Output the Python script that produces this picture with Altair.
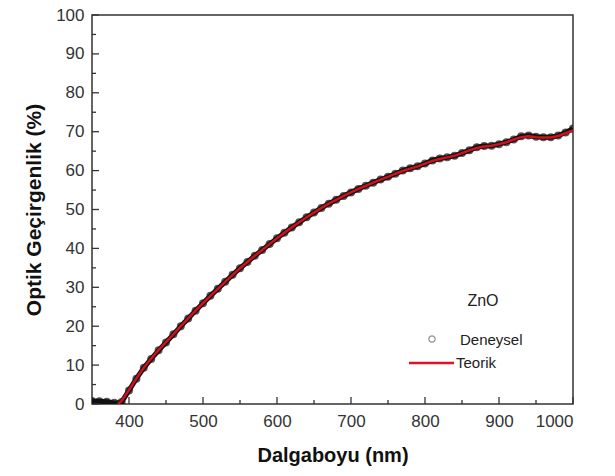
import altair as alt
import pandas as pd

# Wavelength (nm) and transmittance (%)
wl_exp = [350, 360, 370, 380, 385, 390, 400, 410, 420, 430, 440, 450, 460, 470, 480, 490,
          500, 510, 520, 530, 540, 550, 560, 570, 580, 590, 600, 610, 620, 630, 640, 650,
          660, 670, 680, 690, 700, 710, 720, 730, 740, 750, 760, 770, 780, 790, 800, 810,
          820, 830, 840, 850, 860, 870, 880, 890, 900, 910, 920, 930, 940, 950, 960, 970,
          980, 990, 1000]
t_exp = [0.8, 0.7, 0.6, 0.3, 0.0, 0.5, 3.5, 6.5, 9.3, 11.6, 13.8, 15.8, 17.9, 20.0, 22.0, 24.0,
         25.9, 27.8, 29.6, 31.4, 33.2, 34.9, 36.5, 38.1, 39.6, 41.1, 42.6, 44.0, 45.4, 46.7, 48.0, 49.2,
         50.4, 51.5, 52.5, 53.5, 54.4, 55.3, 56.1, 56.9, 57.7, 58.4, 59.2, 60.0, 60.6, 61.1, 61.8, 62.6,
         63.1, 63.4, 63.8, 64.5, 65.2, 66.0, 66.3, 66.4, 66.8, 67.3, 68.0, 68.8, 69.0, 68.7, 68.6, 68.6,
         69.0, 69.8, 70.8]

wl_th = [385, 390, 400, 410, 420, 430, 440, 450, 460, 470, 480, 490, 500, 510, 520, 530, 540,
         550, 560, 570, 580, 590, 600, 610, 620, 630, 640, 650, 660, 670, 680, 690, 700, 710,
         720, 730, 740, 750, 760, 770, 780, 790, 800, 810, 820, 830, 840, 850, 860, 870, 880,
         890, 900, 910, 920, 930, 940, 950, 960, 970, 980, 990, 1000]
t_th = [0.0, 0.8, 3.6, 6.6, 9.3, 11.7, 13.9, 15.9, 17.9, 20.0, 22.0, 24.0, 25.9, 27.8, 29.6, 31.4, 33.2,
        34.9, 36.5, 38.1, 39.6, 41.1, 42.6, 44.0, 45.4, 46.7, 48.0, 49.2, 50.4, 51.5, 52.5, 53.5, 54.4, 55.3,
        56.1, 56.9, 57.7, 58.4, 59.2, 59.9, 60.5, 61.1, 61.8, 62.5, 63.0, 63.4, 63.8, 64.5, 65.2, 65.8, 66.2,
        66.4, 66.8, 67.3, 68.0, 68.6, 68.8, 68.6, 68.5, 68.5, 68.9, 69.6, 70.3]

x_major = [400, 500, 600, 700, 800, 900, 1000]
x_minor = [450, 550, 650, 750, 850, 950]
y_major = [0, 10, 20, 30, 40, 50, 60, 70, 80, 90, 100]
y_minor = [5, 15, 25, 35, 45, 55, 65, 75, 85, 95]

exp_df = pd.DataFrame({"wl": wl_exp, "T": t_exp})
th_df = pd.DataFrame({"wl": wl_th, "T": t_th})

FONT = "Liberation Sans"
xs = alt.Scale(domain=[350, 1000], nice=False, zero=False)
ys = alt.Scale(domain=[0, 100], nice=False)

xax = alt.Axis(values=x_major, ticks=False, domain=False, grid=False, labelFontSize=17,
               labelFont=FONT, labelColor="#333", labelPadding=9, labelOverlap=False,
               format="d", title="Dalgaboyu (nm)",
               titleFont=FONT, titleFontSize=20, titleFontWeight="bold", titleColor="#111",
               titlePadding=16)
yax = alt.Axis(values=y_major, ticks=False, domain=False, grid=False, labelFontSize=17,
               labelFont=FONT, labelColor="#333", labelPadding=8, labelOverlap=False,
               format="d", title="Optik Geçirgenlik (%)",
               titleFont=FONT, titleFontSize=21, titleFontWeight="bold", titleColor="#111",
               titlePadding=11)


def X(field):
    return alt.X(field, scale=xs, axis=xax)


def Y(field):
    return alt.Y(field, scale=ys, axis=yax)


exp_pts = alt.Chart(exp_df).mark_point(filled=False, color="#111", size=36, strokeWidth=2,
                                       clip=True).encode(x=X("wl:Q"), y=Y("T:Q"))
exp_band = alt.Chart(exp_df).mark_line(color="#111", strokeWidth=5, clip=True).encode(
    x=X("wl:Q"), y=Y("T:Q"))
th_line = alt.Chart(th_df).mark_line(color="#d0101c", strokeWidth=2.5, clip=True).encode(
    x=X("wl:Q"), y=Y("T:Q"))

xmaj = alt.Chart(pd.DataFrame({"v": x_major})).mark_rule(color="#333", strokeWidth=1.3).encode(
    x=X("v:Q"), y=alt.value(389), y2=alt.value(382))
xmin = alt.Chart(pd.DataFrame({"v": x_minor})).mark_rule(color="#333", strokeWidth=1.3).encode(
    x=X("v:Q"), y=alt.value(389), y2=alt.value(385))
ymaj = alt.Chart(pd.DataFrame({"v": y_major})).mark_rule(color="#333", strokeWidth=1.3).encode(
    y=Y("v:Q"), x=alt.value(0), x2=alt.value(7))
ymin = alt.Chart(pd.DataFrame({"v": y_minor})).mark_rule(color="#333", strokeWidth=1.3).encode(
    y=Y("v:Q"), x=alt.value(0), x2=alt.value(4))

one = pd.DataFrame({"a": [0]})
zno = alt.Chart(one).mark_text(text="ZnO", font=FONT, fontSize=16, color="#222",
                               align="center").encode(x=alt.value(391), y=alt.value(286))
leg1 = alt.Chart(one).mark_text(text="Deneysel", font=FONT, fontSize=15, color="#222",
                                align="left").encode(x=alt.value(368), y=alt.value(325))
leg2 = alt.Chart(one).mark_text(text="Teorik", font=FONT, fontSize=15, color="#222",
                                align="left").encode(x=alt.value(364), y=alt.value(348))
legpt = alt.Chart(one).mark_point(shape="circle", filled=False, color="#666", size=40,
                                  strokeWidth=1.2).encode(x=alt.value(340), y=alt.value(324))
legln = alt.Chart(one).mark_rule(color="#e0102a", strokeWidth=2.5).encode(
    x=alt.value(317), x2=alt.value(362), y=alt.value(348))

chart = alt.layer(exp_band, exp_pts, th_line, xmaj, xmin, ymaj, ymin, zno, leg1, leg2, legpt,
                  legln).properties(
    width=481, height=389, autosize="none",
    padding={"left": 92, "top": 15, "right": 42, "bottom": 72},
    background="white",
).configure_view(stroke="#333", strokeWidth=1.5)

chart.save("out.html", embed_options={"renderer": "svg", "actions": False})
